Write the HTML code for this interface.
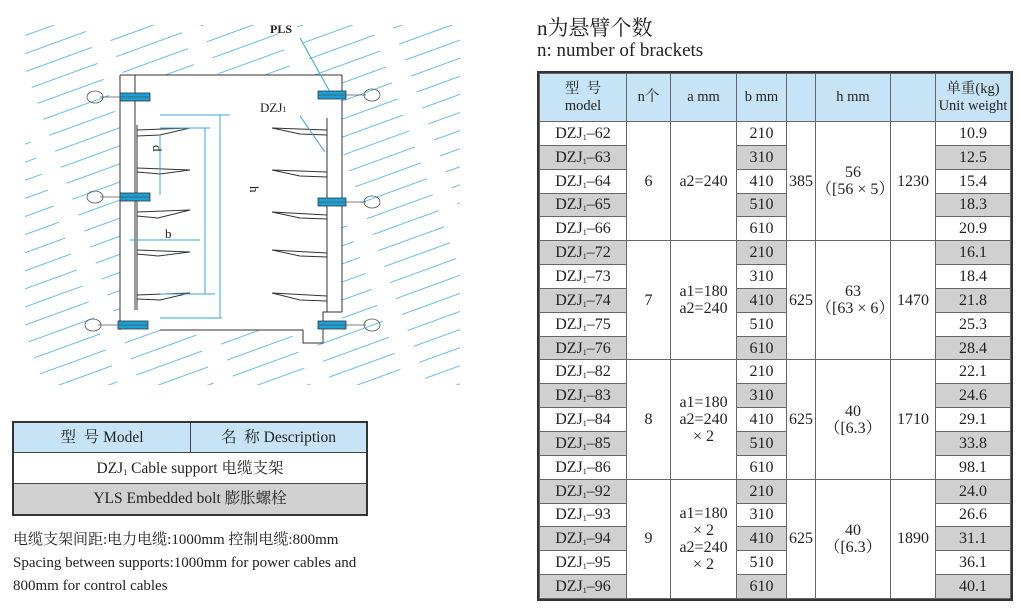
<!DOCTYPE html>
<html><head><meta charset="utf-8"><style>
body{margin:0;width:1020px;height:611px;background:#fff;overflow:hidden;position:relative;font-family:"Liberation Serif","Noto Serif CJK SC",serif;color:#222}
.abs{position:absolute}
table.t{position:absolute;left:539px;top:73px;border-collapse:collapse;font-size:16px;table-layout:fixed}
table.t td{border:1px solid #666;text-align:center;vertical-align:middle;padding:0;height:22.85px;line-height:17px}
table.t tr.h td{background:#c6e4f6;height:47px;font-size:14.5px;line-height:17px}
.g{background:#d0d0d0}
table.t{outline:2px solid #333}
sub{font-size:8px;vertical-align:baseline;position:relative;top:2px;line-height:0}
.lt{position:absolute;left:12px;top:421px;width:356px;border:2px solid #333;box-sizing:border-box;font-size:15.5px}
.lt div{box-sizing:border-box;text-align:center}
</style></head><body>
<svg class="abs" style="left:0;top:0" width="480" height="400">
<defs><pattern id="hp" width="90" height="17" patternUnits="userSpaceOnUse" patternTransform="rotate(-20)">
<line x1="0" y1="8" x2="70" y2="8" stroke="#6cbde2" stroke-width="1"/></pattern></defs>
<rect x="25" y="25" width="435" height="360" fill="url(#hp)"/>
<rect x="120" y="75" width="222" height="255" fill="#fff"/>
<g stroke="#333" fill="none" stroke-width="1">
<line x1="120" y1="75" x2="342" y2="75"/>
<line x1="120" y1="75" x2="120" y2="330"/>
<line x1="135" y1="75" x2="135" y2="310"/>
<line x1="342" y1="75" x2="342" y2="312"/>
<polyline points="160,330 303,330 303,343 323,343 323,312 342,312"/>
<line x1="137" y1="125" x2="137" y2="310"/>
<line x1="327" y1="118" x2="327" y2="312"/>
<path d="M137,130 L190,128 L160,135 L137,136 M137,168 L190,170 L160,174 L137,172 M137,212 L190,210 L158,218 L137,216 M137,250 L190,252 L158,256 L137,254 M137,295 L190,293 L160,300 L137,299"/>
<path d="M327,130 L272,128 L300,134 L327,135 M327,172 L272,170 L300,176 L327,177 M327,215 L272,212 L300,218 L327,219 M327,253 L272,250 L300,256 L327,257 M327,296 L272,293 L300,300 L327,301"/>
</g>
<g stroke="#3aa6d6" stroke-width="1">
<line x1="220" y1="115" x2="220" y2="318"/><line x1="160" y1="115" x2="230" y2="115"/><line x1="160" y1="318" x2="222" y2="318"/>
<line x1="205" y1="128" x2="205" y2="294"/><line x1="160" y1="128" x2="210" y2="128"/><line x1="160" y1="294" x2="215" y2="294"/>
<line x1="160" y1="135" x2="160" y2="195"/><line x1="130" y1="240" x2="200" y2="240"/>
<line x1="300" y1="38" x2="330" y2="92"/><line x1="300" y1="116" x2="325" y2="152"/>
</g>
<g fill="#1aa0d8" stroke="#333" stroke-width="0.8">
<rect x="120" y="93" width="30" height="8"/><rect x="120" y="193" width="30" height="8"/><rect x="118" y="321" width="30" height="8"/>
<rect x="318" y="91" width="28" height="8"/><rect x="318" y="198" width="28" height="8"/><rect x="318" y="321" width="28" height="8"/>
</g>
<g fill="none" stroke="#555" stroke-width="0.8">
<ellipse cx="95" cy="97" rx="8" ry="6"/><line x1="100" y1="97" x2="150" y2="97"/>
<ellipse cx="95" cy="197" rx="8" ry="6"/><line x1="100" y1="197" x2="150" y2="197"/>
<ellipse cx="93" cy="325" rx="8" ry="6"/><line x1="98" y1="325" x2="148" y2="325"/>
<ellipse cx="372" cy="95" rx="8" ry="6"/><line x1="318" y1="95" x2="366" y2="95"/>
<ellipse cx="372" cy="202" rx="8" ry="6"/><line x1="318" y1="202" x2="366" y2="202"/>
<ellipse cx="372" cy="325" rx="8" ry="6"/><line x1="318" y1="325" x2="366" y2="325"/>
</g>
<g font-family="Liberation Serif" font-size="13" fill="#222">
<text x="270" y="33" font-weight="bold" font-size="12">PLS</text>
<text x="260" y="112">DZJ<tspan font-size="8">1</tspan></text>
<text x="165" y="238">b</text>
<text x="150" y="152" transform="rotate(90 155 150)">d</text>
<text x="248" y="188" transform="rotate(90 250 188)">h</text>
</g>
</svg>
<div class="lt">
<div style="height:30px;background:#c6e4f6;display:flex;border-bottom:1px solid #444"><div style="width:177px;border-right:1px solid #444;line-height:30px">型&nbsp;&nbsp;号 Model</div><div style="flex:1;line-height:30px">名&nbsp;&nbsp;称 Description</div></div>
<div style="height:31px;line-height:31px;border-bottom:1px solid #444">DZJ<sub>1</sub> Cable support 电缆支架</div>
<div style="height:30px;line-height:30px;background:#d0d0d0">YLS Embedded bolt 膨胀螺栓</div>
</div>
<div class="abs" style="left:13px;top:529px;font-size:15px;line-height:23px">电缆支架间距:电力电缆:1000mm 控制电缆:800mm<br>Spacing between supports:1000mm for power cables and<br>800mm for control cables</div>
<div class="abs" style="left:537px;top:12px;font-size:21px">n为悬臂个数</div>
<div class="abs" style="left:537px;top:40px;font-size:19px">n: number of brackets</div>
<table class="t">
<colgroup><col style="width:87px"><col style="width:44px"><col style="width:66px"><col style="width:50px"><col style="width:29px"><col style="width:75px"><col style="width:45px"><col style="width:75px"></colgroup>
<tr class="h"><td>型&nbsp;&nbsp;号<br>model</td><td>n个</td><td>a mm</td><td>b mm</td><td></td><td>h mm</td><td></td><td>单重(kg)<br>Unit weight</td></tr>
<tr><td>DZJ<sub>1</sub>–62</td><td rowspan="5">6</td><td rowspan="5">a2=240</td><td>210</td><td rowspan="5">385</td><td rowspan="5">56<br>（[56 × 5）</td><td rowspan="5">1230</td><td>10.9</td></tr>
<tr><td class="g">DZJ<sub>1</sub>–63</td><td class="g">310</td><td class="g">12.5</td></tr>
<tr><td>DZJ<sub>1</sub>–64</td><td>410</td><td>15.4</td></tr>
<tr><td class="g">DZJ<sub>1</sub>–65</td><td class="g">510</td><td class="g">18.3</td></tr>
<tr><td>DZJ<sub>1</sub>–66</td><td>610</td><td>20.9</td></tr>
<tr><td class="g">DZJ<sub>1</sub>–72</td><td rowspan="5">7</td><td rowspan="5">a1=180<br>a2=240</td><td class="g">210</td><td rowspan="5">625</td><td rowspan="5">63<br>（[63 × 6）</td><td rowspan="5">1470</td><td class="g">16.1</td></tr>
<tr><td>DZJ<sub>1</sub>–73</td><td>310</td><td>18.4</td></tr>
<tr><td class="g">DZJ<sub>1</sub>–74</td><td class="g">410</td><td class="g">21.8</td></tr>
<tr><td>DZJ<sub>1</sub>–75</td><td>510</td><td>25.3</td></tr>
<tr><td class="g">DZJ<sub>1</sub>–76</td><td class="g">610</td><td class="g">28.4</td></tr>
<tr><td>DZJ<sub>1</sub>–82</td><td rowspan="5">8</td><td rowspan="5">a1=180<br>a2=240<br>× 2</td><td>210</td><td rowspan="5">625</td><td rowspan="5">40<br>（[6.3）</td><td rowspan="5">1710</td><td>22.1</td></tr>
<tr><td class="g">DZJ<sub>1</sub>–83</td><td class="g">310</td><td class="g">24.6</td></tr>
<tr><td>DZJ<sub>1</sub>–84</td><td>410</td><td>29.1</td></tr>
<tr><td class="g">DZJ<sub>1</sub>–85</td><td class="g">510</td><td class="g">33.8</td></tr>
<tr><td>DZJ<sub>1</sub>–86</td><td>610</td><td>98.1</td></tr>
<tr><td class="g">DZJ<sub>1</sub>–92</td><td rowspan="5">9</td><td rowspan="5">a1=180<br>× 2<br>a2=240<br>× 2</td><td class="g">210</td><td rowspan="5">625</td><td rowspan="5">40<br>（[6.3）</td><td rowspan="5">1890</td><td class="g">24.0</td></tr>
<tr><td>DZJ<sub>1</sub>–93</td><td>310</td><td>26.6</td></tr>
<tr><td class="g">DZJ<sub>1</sub>–94</td><td class="g">410</td><td class="g">31.1</td></tr>
<tr><td>DZJ<sub>1</sub>–95</td><td>510</td><td>36.1</td></tr>
<tr><td class="g">DZJ<sub>1</sub>–96</td><td class="g">610</td><td class="g">40.1</td></tr>
</table>
</body></html>
